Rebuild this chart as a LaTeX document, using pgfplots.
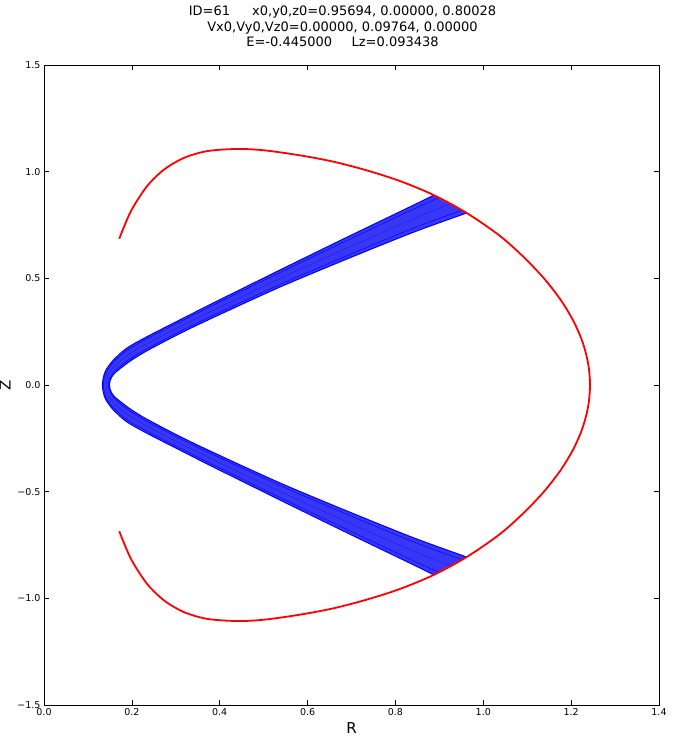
\documentclass[border=0pt]{standalone}
\usepackage{pgfplots}
\pgfplotsset{compat=1.18}
\usepackage{fontspec}
\setmainfont{DejaVu Sans}

\definecolor{bandfill}{RGB}{55,55,245}

\begin{document}
\begin{tikzpicture}
\begin{axis}[
  scale only axis, width=615pt, height=640pt,
  xmin=0, xmax=1.4, ymin=-1.5, ymax=1.5,
  xtick={0,0.2,0.4,0.6,0.8,1.0,1.2,1.4},
  xticklabels={0.0,0.2,0.4,0.6,0.8,1.0,1.2,1.4},
  ytick={-1.5,-1,-0.5,0,0.5,1,1.5},
  yticklabels={−1.5,−1.0,−0.5,0.0,0.5,1.0,1.5},
  tick align=inside, major tick length=5pt,
  tick style={black, line width=0.6pt},
  axis line style={line width=0.9pt},
  ticklabel style={font=\fontsize{9.5}{11}\selectfont},
  xlabel={R}, ylabel={Z},
  label style={font=\fontsize{15}{17}\selectfont},
]
% band of the orbit (filled between its two edges)
\addplot[draw=none, fill=bandfill] coordinates {
 (0.886,0.889) (0.841,0.843) (0.689,0.692) (0.537,0.539) (0.385,0.384) (0.310,0.306)
 (0.234,0.226) (0.188,0.172) (0.158,0.117) (0.141,0.070) (0.135,0.035) (0.133,0)
 (0.135,-0.035) (0.141,-0.070) (0.158,-0.117) (0.188,-0.172) (0.234,-0.226) (0.310,-0.306)
 (0.385,-0.384) (0.537,-0.539) (0.689,-0.692) (0.841,-0.843) (0.886,-0.889)
 (0.962,-0.806) (0.841,-0.716) (0.689,-0.590) (0.537,-0.459) (0.385,-0.316) (0.310,-0.242)
 (0.234,-0.160) (0.196,-0.112) (0.165,-0.063) (0.155,-0.040) (0.1506,-0.020) (0.149,0)
 (0.1506,0.020) (0.155,0.040) (0.165,0.063) (0.196,0.112) (0.234,0.160) (0.310,0.242)
 (0.385,0.316) (0.537,0.459) (0.689,0.590) (0.841,0.716) (0.962,0.806)
};
% outer edge
\addplot[blue, line width=1pt, smooth] coordinates {
 (0.886,0.889) (0.841,0.843) (0.689,0.692) (0.537,0.539) (0.385,0.384) (0.310,0.306)
 (0.234,0.226) (0.188,0.172) (0.158,0.117) (0.141,0.070) (0.135,0.035) (0.133,0)
 (0.135,-0.035) (0.141,-0.070) (0.158,-0.117) (0.188,-0.172) (0.234,-0.226) (0.310,-0.306)
 (0.385,-0.384) (0.537,-0.539) (0.689,-0.692) (0.841,-0.843) (0.886,-0.889)
};
% inner edge
\addplot[blue, line width=1pt, smooth] coordinates {
 (0.962,0.806) (0.841,0.716) (0.689,0.590) (0.537,0.459) (0.385,0.316) (0.310,0.242)
 (0.234,0.160) (0.196,0.112) (0.165,0.063) (0.155,0.040) (0.1506,0.020) (0.149,0)
 (0.1506,-0.020) (0.155,-0.040) (0.165,-0.063) (0.196,-0.112) (0.234,-0.160) (0.310,-0.242)
 (0.385,-0.316) (0.537,-0.459) (0.689,-0.590) (0.841,-0.716) (0.962,-0.806)
};
% orbit passes inside the band
\addplot[blue, line width=0.45pt, smooth] coordinates {
 (0.8974,0.8766) (0.841,0.8240) (0.689,0.6767) (0.537,0.5270) (0.385,0.3738) (0.310,0.2964)
 (0.234,0.2161) (0.1892,0.1630) (0.1591,0.1089) (0.1431,0.0655) (0.1373,0.0328) (0.1354,0)
 (0.1373,-0.0328) (0.1431,-0.0655) (0.1591,-0.1089) (0.1892,-0.1630) (0.234,-0.2161) (0.310,-0.2964)
 (0.385,-0.3738) (0.537,-0.5270) (0.689,-0.6767) (0.841,-0.8240) (0.8974,-0.8766)
};
\addplot[blue!90!white, line width=0.35pt, smooth] coordinates {
 (0.924,0.8475) (0.841,0.7795) (0.689,0.641) (0.537,0.499) (0.385,0.350) (0.310,0.274)
 (0.234,0.193) (0.192,0.142) (0.1615,0.090) (0.148,0.055) (0.1428,0.0275) (0.141,0)
 (0.1428,-0.0275) (0.148,-0.055) (0.1615,-0.090) (0.192,-0.142) (0.234,-0.193) (0.310,-0.274)
 (0.385,-0.350) (0.537,-0.499) (0.689,-0.641) (0.841,-0.7795) (0.924,-0.8475)
};
\addplot[blue, line width=0.45pt, smooth] coordinates {
 (0.9506,0.8185) (0.841,0.7351) (0.689,0.6053) (0.537,0.471) (0.385,0.3262) (0.310,0.2516)
 (0.234,0.1699) (0.1948,0.121) (0.1640,0.0711) (0.1529,0.0445) (0.1483,0.0223) (0.1466,0)
 (0.1483,-0.0223) (0.1529,-0.0445) (0.1640,-0.0711) (0.1948,-0.121) (0.234,-0.1699) (0.310,-0.2516)
 (0.385,-0.3262) (0.537,-0.471) (0.689,-0.6053) (0.841,-0.7351) (0.9506,-0.8185)
};
% zero-velocity curve
\addplot[red, line width=1.8pt, smooth] coordinates {
 (0.1714,0.6859) (0.1980,0.8153) (0.2351,0.9334) (0.2745,1.0117) (0.3198,1.0656)
 (0.3724,1.0966) (0.4405,1.1064) (0.5019,1.0999) (0.5830,1.0764) (0.6586,1.0469)
 (0.7346,1.0061) (0.8104,0.9559) (0.8862,0.8912) (0.9622,0.8064) (1.0372,0.70)
 (1.0918,0.60) (1.1380,0.50) (1.1758,0.40) (1.2052,0.30) (1.2262,0.20) (1.2388,0.10)
 (1.243,0)
 (1.2388,-0.10) (1.2262,-0.20) (1.2052,-0.30) (1.1758,-0.40) (1.1380,-0.50) (1.0918,-0.60)
 (1.0372,-0.70) (0.9622,-0.8064) (0.8862,-0.8912) (0.8104,-0.9559) (0.7346,-1.0061)
 (0.6586,-1.0469) (0.5830,-1.0764) (0.5019,-1.0999) (0.4405,-1.1064) (0.3724,-1.0966)
 (0.3198,-1.0656) (0.2745,-1.0117) (0.2351,-0.9334) (0.1980,-0.8153) (0.1714,-0.6859)
};
\end{axis}
\node[anchor=south, inner sep=0pt, align=center,
      font=\fontsize{13}{15.5}\selectfont]
  at ([xshift=-9pt, yshift=18pt]current axis.north)
  {ID=61\hspace{1.7em}x0,y0,z0=0.95694, 0.00000, 0.80028\\
   Vx0,Vy0,Vz0=0.00000, 0.09764, 0.00000\\
   E=-0.445000\hspace{1.5em}Lz=0.093438};
\pgfresetboundingbox
\path[use as bounding box]
  ([xshift=-44pt, yshift=-31pt]current axis.south west)
  rectangle ([xshift=13pt, yshift=65pt]current axis.north east);
\end{tikzpicture}
\end{document}
